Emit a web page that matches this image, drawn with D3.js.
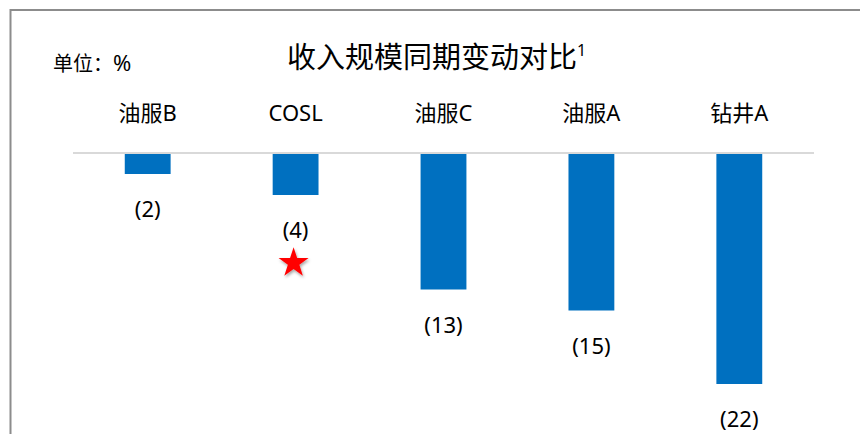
<!DOCTYPE html>
<html>
<head>
<meta charset="utf-8">
<script src="https://cdn.jsdelivr.net/npm/d3@7"></script>
<style>
  body { margin: 0; background: #fff; }
  text { font-family: "Noto Sans", "Noto Sans CJK SC", sans-serif; fill: #000; }
</style>
</head>
<body>
<div id="vis"></div>
<script>
var categories = ['油服B', 'COSL', '油服C', '油服A', '钻井A'];
var values = [-2, -4, -13, -15, -22];
var valueLabels = ['(2)', '(4)', '(13)', '(15)', '(22)'];
var starCategory = 'COSL';

var width = 860;
var height = 434;

var svg = d3.select('#vis')
  .append('svg')
  .attr('width', width)
  .attr('height', height);

var defs = svg.append('defs');
var shadow = defs.append('filter').attr('id', 'shadow')
  .attr('x', '-50%').attr('y', '-50%').attr('width', '200%').attr('height', '200%');
shadow.append('feDropShadow')
  .attr('dx', 1).attr('dy', 2).attr('stdDeviation', 1.5)
  .attr('flood-color', '#000').attr('flood-opacity', 0.35);

// frame
svg.append('line')
  .attr('x1', 10.5).attr('x2', 10.5).attr('y1', 9).attr('y2', height)
  .attr('stroke', '#8c8c8c').attr('stroke-width', 2);
svg.append('line')
  .attr('x1', 10).attr('x2', width).attr('y1', 10).attr('y2', 10)
  .attr('stroke', '#8c8c8c').attr('stroke-width', 2);

var x = d3.scaleBand()
  .domain(categories)
  .range([73, 814])
  .paddingInner(0.69)
  .paddingOuter(0.35);

var y = d3.scaleLinear()
  .domain([0, -22])
  .range([153, 384]);

// title
var title = svg.append('text')
  .attr('x', 287)
  .attr('y', 68)
  .style('font-size', '29px');
title.append('tspan').text('收入规模同期变动对比');
title.append('tspan').attr('dy', -12).style('font-size', '16px').text('1');

var unit = svg.append('text')
  .attr('x', 53)
  .attr('y', 71)
  .style('font-size', '20px');
unit.append('tspan').text('单位：');
unit.append('tspan').style('font-size', '22px').text('%');

// category labels
svg.selectAll('.cat')
  .data(categories)
  .enter()
  .append('text')
  .attr('class', 'cat')
  .attr('x', function (d) { return x(d) + x.bandwidth() / 2; })
  .attr('y', 121)
  .attr('text-anchor', 'middle')
  .style('font-size', '22px')
  .text(function (d) { return d; });

// zero line
svg.append('line')
  .attr('x1', 73).attr('x2', 814)
  .attr('y1', y(0)).attr('y2', y(0))
  .attr('stroke', '#d9d9d9').attr('stroke-width', 2);

svg.selectAll('.bar')
  .data(values)
  .enter()
  .append('rect')
  .attr('class', 'bar')
  .attr('x', function (d, i) { return x(categories[i]); })
  .attr('y', y(0) + 1)
  .attr('width', x.bandwidth())
  .attr('height', function (d) { return y(d) - y(0) - 1; })
  .attr('fill', '#0070c0');

svg.selectAll('.val')
  .data(values)
  .enter()
  .append('text')
  .attr('class', 'val')
  .attr('x', function (d, i) { return x(categories[i]) + x.bandwidth() / 2; })
  .attr('y', function (d) { return y(d) + 43; })
  .attr('text-anchor', 'middle')
  .style('font-size', '22px')
  .text(function (d, i) { return valueLabels[i]; });

// star marker under COSL
var si = categories.indexOf(starCategory);
svg.append('path')
  .attr('d', d3.symbol().type(d3.symbolStar).size(280)())
  .attr('transform', 'translate(' + (x(starCategory) + x.bandwidth() / 2 - 2) + ',' + (y(values[si]) + 68) + ')')
  .attr('fill', '#ff0000')
  .attr('filter', 'url(#shadow)');
</script>
</body>
</html>
